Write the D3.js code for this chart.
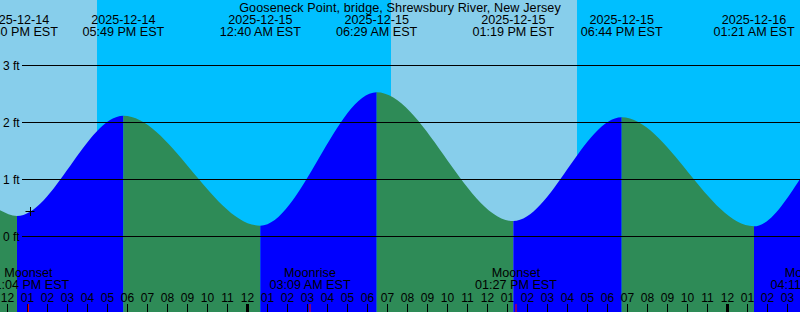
<!DOCTYPE html>
<html>
<head>
<meta charset="utf-8">
<script src="https://cdn.jsdelivr.net/npm/d3@7"></script>
<style>
  body { margin: 0; background: #fff; }
  svg { display: block; font-family: "Liberation Sans", Arial, sans-serif; }
</style>
</head>
<body>
<svg id="tide" width="800" height="312"></svg>
<script>
const stationName = "Gooseneck Point, bridge, Shrewsbury River, New Jersey";

// tide curve, EST: window edges plus every high / low in between
const tideTimes = ["2025-12-14 11:39", "2025-12-14 12:30", "2025-12-14 17:49", "2025-12-15 00:40",
  "2025-12-15 06:29", "2025-12-15 13:19", "2025-12-15 18:44", "2025-12-16 01:21", "2025-12-16 03:40"];
const tideHeights = [0.46, 0.36, 2.12, 0.19, 2.53, 0.27, 2.09, 0.18, 1.02];

// the highs and lows that get a label at the top
const eventTimes = ["2025-12-14 12:30", "2025-12-14 17:49", "2025-12-15 00:40", "2025-12-15 06:29",
  "2025-12-15 13:19", "2025-12-15 18:44", "2025-12-16 01:21"];

const sunTimes = ["2025-12-14 16:30", "2025-12-15 07:12", "2025-12-15 16:30"];
const sunNames = ["Sunset", "Sunrise", "Sunset"];

const moonTimes = ["2025-12-14 13:04", "2025-12-15 03:09", "2025-12-15 13:27", "2025-12-16 04:11"];
const moonNames = ["Moonset", "Moonrise", "Moonset", "Moonrise"];

const levelTicks = [0, 1, 2, 3];

const markTime = "2025-12-14 13:09";
const markLevel = 0.44;

const parse = d3.utcParse("%Y-%m-%d %H:%M");
const fmtDate = d3.utcFormat("%Y-%m-%d");
const fmtTime = d3.utcFormat("%I:%M %p EST");

const width = 800, height = 312;
const labelSize = 12.6;
const svg = d3.select("#tide");

const x = d3.scaleUtc()
  .domain([parse("2025-12-14 11:39"), parse("2025-12-16 03:39")])
  .range([0, width]);
// tiny offset so 1px lines land on whole pixel rows
const y = d3.scaleLinear().domain([0, 3]).range([236.5, 65.5]);

// day / night background
let edges = [x.domain()[0], ...sunTimes.map(parse), x.domain()[1]];
let bands = d3.pairs(edges).map((p, i) => ({ a: p[0], b: p[1], day: i % 2 === 0 }));
svg.append("g")
  .selectAll("rect")
  .data(bands)
  .join("rect")
  .attr("x", d => x(d.a))
  .attr("width", d => x(d.b) - x(d.a))
  .attr("y", 0)
  .attr("height", height)
  .attr("fill", d => d.day ? "#87CEEB" : "#00BFFF");

// water body
const tide = tideTimes.map((t, i) => ({ t: parse(t), h: tideHeights[i] }));
const area = d3.area()
  .x(d => x(d.t))
  .y0(height)
  .y1(d => y(d.h))
  .curve(d3.curveMonotoneX);

svg.append("clipPath")
  .attr("id", "water")
  .append("path")
  .attr("d", area(tide));

// flood = blue, ebb = green
svg.append("g")
  .attr("clip-path", "url(#water)")
  .selectAll("rect")
  .data(d3.pairs(tide))
  .join("rect")
  .attr("x", d => x(d[0].t))
  .attr("width", d => x(d[1].t) - x(d[0].t))
  .attr("y", 0)
  .attr("height", height)
  .attr("fill", d => d[1].h > d[0].h ? "#0000FF" : "#2E8B57");

// level lines
const grid = svg.append("g");
grid.selectAll("line")
  .data(levelTicks)
  .join("line")
  .attr("x1", 22)
  .attr("x2", width)
  .attr("y1", d => y(d))
  .attr("y2", d => y(d))
  .attr("stroke", "#000")
  .attr("stroke-width", 1);
grid.selectAll("text")
  .data(levelTicks)
  .join("text")
  .attr("x", 3)
  .attr("y", d => y(d) + 4.5)
  .attr("font-size", 12)
  .text(d => d + " ft");

// the little + marker
const mx = x(parse(markTime)), my = Math.round(y(markLevel)) + 0.5;
svg.append("path")
  .attr("d", `M${mx - 4.5},${my}H${mx + 4.5}M${Math.round(mx) + 0.5},${my - 4.5}V${my + 4.5}`)
  .attr("stroke", "#000")
  .attr("fill", "none");

// title + high/low labels
svg.append("text")
  .attr("x", width / 2)
  .attr("y", 12)
  .attr("text-anchor", "middle")
  .attr("font-size", labelSize)
  .attr("letter-spacing", 0.1)
  .text(stationName);

const tideLabels = svg.append("g")
  .attr("font-size", labelSize)
  .attr("text-anchor", "middle")
  .selectAll("g")
  .data(eventTimes.map(parse))
  .join("g")
  .attr("transform", d => `translate(${x(d)},0)`);
tideLabels.append("text").attr("y", 24).text(d => fmtDate(d));
tideLabels.append("text").attr("y", 36).text(d => fmtTime(d));

// hour axis along the bottom
const hourAxis = d3.axisTop(x)
  .ticks(d3.utcHour.every(1))
  .tickFormat(d3.utcFormat("%I"))
  .tickSize(-8)
  .tickPadding(2);

const ax = svg.append("g")
  .attr("transform", `translate(0,304)`)
  .call(hourAxis);
ax.select(".domain").remove();
ax.selectAll("text").attr("font-size", 12).attr("font-family", null).attr("fill", "#000");
ax.selectAll("line")
  .attr("stroke", "#000")
  .attr("stroke-width", d => d.getUTCHours() === 0 ? 3 : 1);

// moon rise / set
const moon = svg.append("g")
  .attr("font-size", labelSize)
  .attr("text-anchor", "middle")
  .selectAll("g")
  .data(moonTimes.map((t, i) => ({ t: parse(t), name: moonNames[i] })))
  .join("g")
  .attr("transform", d => `translate(${x(d.t)},0)`);
moon.append("text").attr("y", 277).text(d => d.name);
moon.append("text").attr("y", 289).text(d => fmtTime(d.t));
moon.append("line")
  .attr("y1", 304)
  .attr("y2", height)
  .attr("stroke", "#FF0000")
  .attr("stroke-width", 1);
</script>
</body>
</html>
